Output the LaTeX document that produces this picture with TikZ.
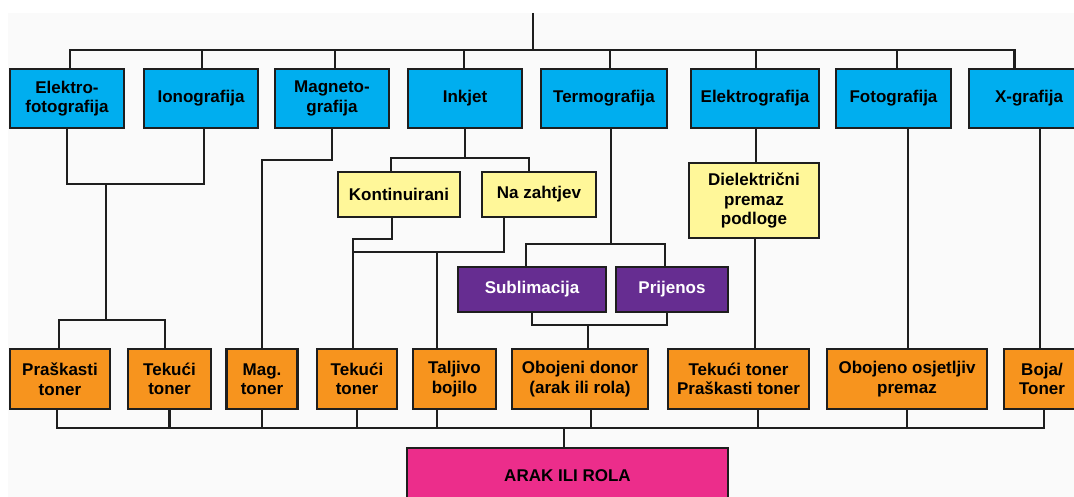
\documentclass[tikz,border=0pt]{standalone}
\usepackage{fontspec}
\setmainfont{Liberation Sans}
\definecolor{cblue}{HTML}{00AEEF}
\definecolor{cyellow}{HTML}{FFF799}
\definecolor{corange}{HTML}{F7941E}
\definecolor{cpurple}{HTML}{662D91}
\definecolor{cpink}{HTML}{EC2D8B}
\definecolor{cbg}{HTML}{FAFAFA}
\definecolor{cline}{HTML}{1E1E1E}
\begin{document}
\begin{tikzpicture}[x=1pt,y=-1pt,
  box/.style={draw=cline,line width=2.5pt,inner sep=0pt,outer sep=0pt,align=center,
    font=\fontsize{17}{19.5}\selectfont\bfseries},
  bluebox/.style={box,fill=cblue,minimum height=59pt},
  yellowbox/.style={box,fill=cyellow},
  purplebox/.style={box,fill=cpurple,text=white,minimum height=45pt},
  orangebox/.style={box,fill=corange,minimum height=60pt},
  pinkbox/.style={box,fill=cpink},
  conn/.style={draw=cline,line width=2.2pt}]
\clip (0,0) rectangle (1074,497);
\fill[cbg] (8,13) rectangle (1074,497);

% top level
\node[bluebox,minimum width=114pt] (e1) at (67,98.5) {Elektro-\\fotografija};
\node[bluebox,minimum width=114pt] (io) at (201,98.5) {Ionografija};
\node[bluebox,minimum width=114pt] (mg) at (332,98.5) {Magneto-\\grafija};
\node[bluebox,minimum width=114pt] (ij) at (465,98.5) {Inkjet};
\node[bluebox,minimum width=126pt] (tg) at (604,98.5) {Termografija};
\node[bluebox,minimum width=128pt] (el) at (755,98.5) {Elektrografija};
\node[bluebox,minimum width=115pt] (fo) at (893.5,98.5) {Fotografija};
\node[bluebox,minimum width=120pt,text width=104pt] (xg) at (1029,98.5) {X-grafija};

% second level
\node[yellowbox,minimum width=122pt,minimum height=45pt] (ko) at (399,194.5) {Kontinuirani};
\node[yellowbox,minimum width=114pt,minimum height=45pt] (nz) at (539,194.5) {Na zahtjev};
\node[yellowbox,minimum width=130pt,minimum height=75pt] (di) at (754,200.5) {Dielektrični\\premaz\\podloge};
\node[purplebox,minimum width=148pt] (sb) at (532,289.5) {Sublimacija};
\node[purplebox,minimum width=112pt] (pr) at (672,289.5) {Prijenos};

% bottom level
\node[orangebox,minimum width=100pt] (o1) at (60,379) {Praškasti\\toner};
\node[orangebox,minimum width=83pt] (o2) at (169.5,379) {Tekući\\toner};
\node[orangebox,minimum width=71pt] (o3) at (262,379) {Mag.\\toner};
\node[orangebox,minimum width=80pt] (o4) at (357,379) {Tekući\\toner};
\node[orangebox,minimum width=83pt] (o5) at (454.5,379) {Taljivo\\bojilo};
\node[orangebox,minimum width=136pt] (o6) at (580,379) {Obojeni donor\\(arak ili rola)};
\node[orangebox,minimum width=141pt] (o7) at (738.5,379) {Tekući toner\\Praškasti toner};
\node[orangebox,minimum width=160pt] (o8) at (907,379) {Obojeno osjetljiv\\premaz};
\node[orangebox,minimum width=76pt,text width=72pt] (o9) at (1042,379) {Boja/\\Toner};
\node[pinkbox,minimum width=321pt,minimum height=72pt] (ar) at (567.5,484) {};
\node[font=\fontsize{17}{20}\selectfont\bfseries] (art) at (567.5,475.5) {ARAK ILI ROLA};

% junction coordinates
\coordinate (root) at (533,13);
\coordinate (tb) at (533,50);
\coordinate (ei) at (106,184);
\coordinate (eib) at (106,320);
\coordinate (mgj) at (262,160);
\coordinate (ijj) at (465,158);
\coordinate (koj) at (353,239);
\coordinate (nzj) at (353,252);
\coordinate (tgj) at (611,244);
\coordinate (spj) at (588,325);
\coordinate (bb) at (564,428);

% top bus
\draw[conn] (root) -- (tb);
\draw[conn] ([xshift=3pt]e1.north) |- (tb) -| ([xshift=-14.5pt]xg.north);
\draw[conn] ([xshift=1pt]io.north) -- ++(0,-19);
\draw[conn] ([xshift=3pt]mg.north) -- ++(0,-19);
\draw[conn] ([xshift=-1pt]ij.north) -- ++(0,-19);
\draw[conn] ([xshift=6pt]tg.north) -- ++(0,-19);
\draw[conn] ([xshift=1pt]el.north) -- ++(0,-19);
\draw[conn] ([xshift=3.5pt]fo.north) -- ++(0,-19);

% Elektrofotografija / Ionografija
\draw[conn] (e1.south) |- (ei) -| ([xshift=3pt]io.south);
\draw[conn] (ei) -- (eib);
\draw[conn] ([xshift=-1pt]o1.north) |- (eib) -| ([xshift=-4.5pt]o2.north);

% Magnetografija
\draw[conn] (mg.south) |- (mgj) -| (o3.north);

% Inkjet
\draw[conn] (ij.south) -- (ijj);
\draw[conn] ([xshift=-8pt]ko.north) |- (ijj) -| ([xshift=-10pt]nz.north);
\draw[conn] ([xshift=-7pt]ko.south) |- (koj) -- ([xshift=-4pt]o4.north);
\draw[conn] ([xshift=-35pt]nz.south) |- (nzj);
\draw[conn] ([xshift=-17.5pt]o5.north) -- ([xshift=-17.5pt]o5.north |- nzj);

% Termografija
\draw[conn] ([xshift=7pt]tg.south) -- (tgj);
\draw[conn] ([xshift=-6pt]sb.north) |- (tgj) -| ([xshift=-7pt]pr.north);
\draw[conn] (sb.south) |- (spj) -| ([xshift=-5pt]pr.south);
\draw[conn] (spj) -- ([xshift=8pt]o6.north);

% Elektrografija
\draw[conn] ([xshift=1pt]el.south) -- ([xshift=2pt]di.north);
\draw[conn] ([xshift=1pt]di.south) -- ([xshift=16.5pt]o7.north);

% Fotografija, X-grafija
\draw[conn] ([xshift=14.5pt]fo.south) -- ([xshift=1pt]o8.north);
\draw[conn] ([xshift=11pt]xg.south) -- ([xshift=-2pt]o9.north);

% bottom bus
\draw[conn] ([xshift=-3pt]o1.south) |- (bb) -| ([xshift=2pt]o9.south);
\draw[conn] (o2.south) -- ++(0,19);
\draw[conn] (o3.south) -- ++(0,19);
\draw[conn] (o4.south) -- ++(0,19);
\draw[conn] ([xshift=-17.5pt]o5.south) -- ++(0,19);
\draw[conn] ([xshift=11pt]o6.south) -- ++(0,19);
\draw[conn] ([xshift=19.5pt]o7.south) -- ++(0,19);
\draw[conn] (o8.south) -- ++(0,19);
\draw[conn] (bb) -- (bb |- ar.north);
\end{tikzpicture}
\end{document}
